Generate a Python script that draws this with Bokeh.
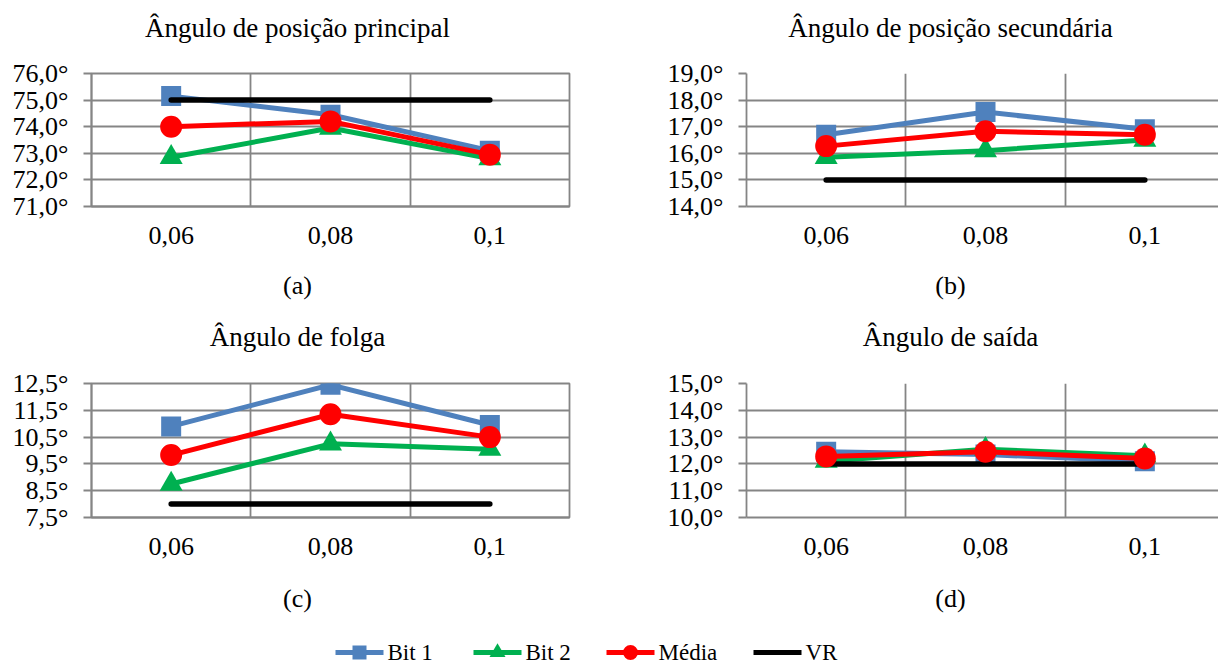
from bokeh.plotting import figure
from bokeh.layouts import column, row
from bokeh.models import Range1d, FixedTicker, CustomJSTickFormatter
from bokeh.embed import file_html
from bokeh.resources import INLINE
from bokeh.core.properties import value

# ---------------- data ----------------
categories = ["0,06", "0,08", "0,1"]
series_names = ["Bit 1", "Bit 2", "Média", "VR"]

a_title = "Ângulo de posição principal"
a_bit1 = [75.15, 74.45, 73.1]
a_bit2 = [72.85, 73.95, 72.8]
a_media = [74.0, 74.2, 72.95]
a_vr = [75.0, 75.0, 75.0]
a_ticks = [71.0, 72.0, 73.0, 74.0, 75.0, 76.0]

b_title = "Ângulo de posição secundária"
b_bit1 = [16.7, 17.55, 16.9]
b_bit2 = [15.85, 16.1, 16.5]
b_media = [16.27, 16.83, 16.7]
b_vr = [15.0, 15.0, 15.0]
b_ticks = [14.0, 15.0, 16.0, 17.0, 18.0, 19.0]

c_title = "Ângulo de folga"
c_bit1 = [10.9, 12.45, 10.95]
c_bit2 = [8.75, 10.25, 10.05]
c_media = [9.83, 11.35, 10.5]
c_vr = [8.0, 8.0, 8.0]
c_ticks = [7.5, 8.5, 9.5, 10.5, 11.5, 12.5]

d_title = "Ângulo de saída"
d_bit1 = [12.45, 12.35, 12.1]
d_bit2 = [12.1, 12.55, 12.3]
d_media = [12.28, 12.45, 12.2]
d_vr = [12.0, 12.0, 12.0]
d_ticks = [10.0, 11.0, 12.0, 13.0, 14.0, 15.0]

sub_labels = ["(a)", "(b)", "(c)", "(d)"]

# ---------------- style ----------------
FONT = "Liberation Serif"
GRID = "#858585"
C_BIT1 = "#4F81BD"
C_BIT2 = "#00B050"
C_MEDIA = "#FF0000"
C_VR = "#000000"
PAGE_W = 1218

xs = [i + 0.5 for i in range(len(categories))]
cat_w = 478 / len(categories)  # pixel width of one category


def make_panel(bit1, bit2, media, vr, yticks, width, height, bl, br, bt, bb, outline):
    fw = width - bl - br
    xspan = fw / cat_w
    p = figure(width=width, height=height, x_range=Range1d(0, xspan),
               y_range=Range1d(yticks[0], yticks[-1]), output_backend="svg",
               toolbar_location=None, min_border_left=bl, min_border_right=br,
               min_border_top=bt, min_border_bottom=bb)
    p.background_fill_color = "white"
    p.border_fill_color = "white"
    p.outline_line_color = GRID if outline else None
    p.outline_line_width = 1.8

    p.xaxis.ticker = FixedTicker(ticks=xs, minor_ticks=[])
    p.xaxis.formatter = CustomJSTickFormatter(args=dict(cats=categories),
                                              code="return cats[Math.floor(tick)];")
    p.xaxis.major_tick_out = 0
    p.xaxis.major_tick_in = 0
    p.xaxis.minor_tick_out = 0
    p.xaxis.minor_tick_in = 0
    p.xaxis.axis_line_color = GRID
    p.xaxis.axis_line_width = 1.8
    p.xaxis.major_label_text_font = FONT
    p.xaxis.major_label_text_font_size = "26px"
    p.xaxis.major_label_text_color = "black"
    p.xaxis.major_label_standoff = 20

    p.yaxis.ticker = FixedTicker(ticks=yticks, minor_ticks=[])
    p.yaxis.formatter = CustomJSTickFormatter(
        code="return tick.toFixed(1).replace('.', ',') + '\u00b0';")
    p.yaxis.major_tick_out = 8
    p.yaxis.major_tick_in = 0
    p.yaxis.minor_tick_out = 0
    p.yaxis.minor_tick_in = 0
    p.yaxis.major_tick_line_color = GRID
    p.yaxis.major_tick_line_width = 1.8
    p.yaxis.axis_line_color = GRID
    p.yaxis.axis_line_width = 1.8
    p.yaxis.major_label_text_font = FONT
    p.yaxis.major_label_text_font_size = "26px"
    p.yaxis.major_label_text_color = "black"
    p.yaxis.major_label_standoff = 15

    p.xgrid.ticker = FixedTicker(ticks=list(range(len(categories) + 1)), minor_ticks=[])
    p.xgrid.grid_line_color = GRID
    p.xgrid.grid_line_width = 1.8
    p.ygrid.grid_line_color = GRID
    p.ygrid.grid_line_width = 1.8

    p.line(xs, bit1, line_color=C_BIT1, line_width=5)
    p.scatter(xs, bit1, marker="square", size=20, fill_color=C_BIT1, line_color=None)
    p.line(xs, bit2, line_color=C_BIT2, line_width=5)
    p.scatter(xs, bit2, marker="triangle", size=23, fill_color=C_BIT2, line_color=None)
    p.line(xs, vr, line_color=C_VR, line_width=5.5, line_cap="round")
    p.line(xs, media, line_color=C_MEDIA, line_width=5)
    p.scatter(xs, media, marker="circle", size=22, fill_color=C_MEDIA, line_color=None)
    return p


def strip(top, h):
    s = figure(width=PAGE_W, height=h, x_range=Range1d(0, PAGE_W),
               y_range=Range1d(top + h, top), output_backend="svg",
               toolbar_location=None, min_border_left=0, min_border_right=0,
               min_border_top=0, min_border_bottom=0,
               x_axis_location=None, y_axis_location=None)
    s.grid.visible = False
    s.outline_line_color = None
    s.background_fill_color = "white"
    s.border_fill_color = "white"
    return s


def put_text(s, x, y, txt, size="26px", align="center"):
    s.text([x], [y], text=[txt], text_font=value(FONT), text_font_size=size,
           text_align=align, text_baseline="middle", text_color="black")


LEFT_C = 297   # horizontal centre of left-column texts
RIGHT_C = 950  # horizontal centre of right-column texts

# strip 1 : titles of top row
s1 = strip(0, 50)
put_text(s1, LEFT_C, 27, a_title, size="27px")
put_text(s1, RIGHT_C, 27, b_title, size="27px")

pa = make_panel(a_bit1, a_bit2, a_media, a_vr, a_ticks, 640, 215, 91, 71, 23, 59, True)
pb = make_panel(b_bit1, b_bit2, b_media, b_vr, b_ticks, 578, 215, 106, 0, 23, 59, False)

# strip 2 : sub labels (a)(b) and titles of bottom row
s2 = strip(265, 95)
put_text(s2, LEFT_C, 285, sub_labels[0])
put_text(s2, RIGHT_C, 285, sub_labels[1])
put_text(s2, LEFT_C, 336, c_title, size="27px")
put_text(s2, RIGHT_C, 336, d_title, size="27px")

pc = make_panel(c_bit1, c_bit2, c_media, c_vr, c_ticks, 640, 215, 91, 71, 23, 58, True)
pd = make_panel(d_bit1, d_bit2, d_media, d_vr, d_ticks, 578, 215, 106, 0, 23, 58, False)

# strip 3 : sub labels (c)(d) and legend
s3 = strip(575, 91)
put_text(s3, LEFT_C, 598, sub_labels[2])
put_text(s3, RIGHT_C, 598, sub_labels[3])

leg_colors = [C_BIT1, C_BIT2, C_MEDIA, C_VR]
leg_markers = ["square", "triangle", "circle", None]
leg_marker_sizes = [14, 16, 15, 0]
leg_x0 = [335, 473, 606, 753]
leg_len = 48
leg_y = 652
for name, col, mk, ms, x0 in zip(series_names, leg_colors, leg_markers, leg_marker_sizes, leg_x0):
    s3.line([x0, x0 + leg_len], [leg_y, leg_y], line_color=col, line_width=5)
    if mk is not None:
        s3.scatter([x0 + leg_len / 2], [leg_y], marker=mk, size=ms, fill_color=col, line_color=None)
    put_text(s3, x0 + leg_len + 4, leg_y, name, size="23px", align="left")

layout = column(s1, row(pa, pb), s2, row(pc, pd), s3)

open("out.html", "w").write(file_html(layout, INLINE))
